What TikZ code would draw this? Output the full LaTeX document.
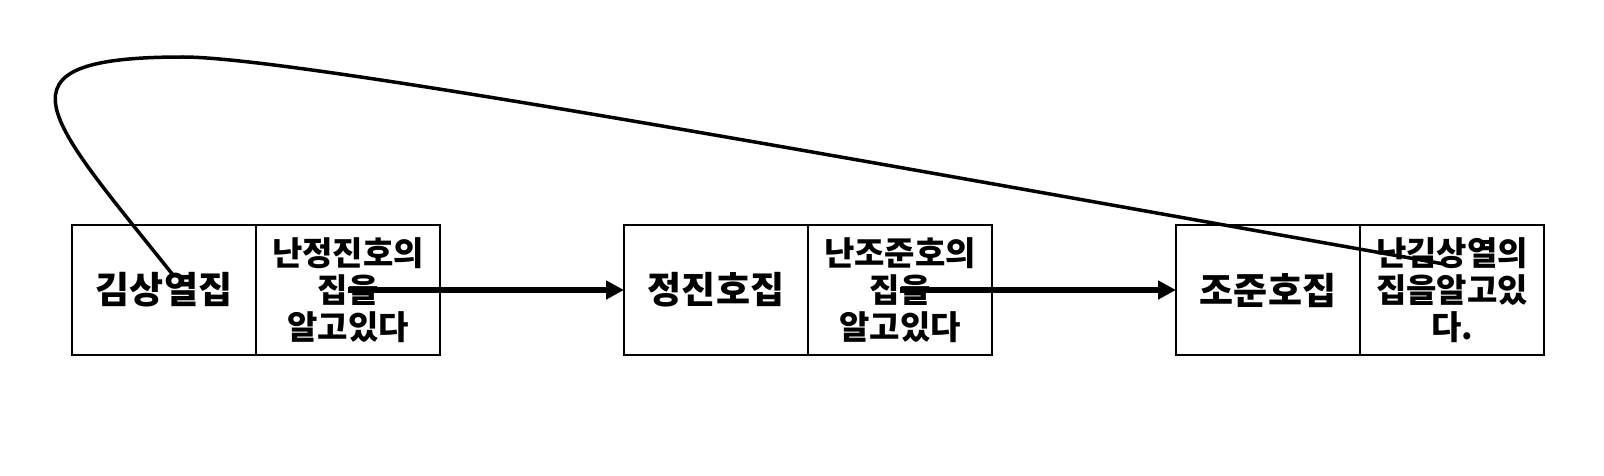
\documentclass[tikz,border=0pt]{standalone}
\usepackage{fontspec}
\newfontfamily\kofont{Noto Sans CJK KR}
\usepackage{tikz}
\usetikzlibrary{positioning}
\usetikzlibrary{arrows.meta}

\tikzset{
  datacell/.style={draw, line width=2.2pt, outer sep=0pt, inner sep=0pt,
    minimum width=184pt, minimum height=130pt,
    font=\kofont\bfseries\fontsize{37}{44}\selectfont},
  ptrcell/.style={datacell, align=center,
    font=\kofont\bfseries\fontsize{33}{37}\selectfont},
  nextlink/.style={line width=5.5pt, -{Triangle[length=18pt,width=18pt]}},
  backlink/.style={line width=3.5pt},
}

\begin{document}
\begin{tikzpicture}[x=1pt,y=-1pt]
        \useasboundingbox (0,0) rectangle (1604,476);%

        % Drawing node of the first house
        \node [datacell] (kimData) at (164,290) {김상열집};%
        \node [ptrcell, right=0pt of kimData] (kimPtr) {난정진호의\\집을\\알고있다};%

        % Drawing node of the second house
        \node [datacell, right=184pt of kimPtr] (jinData) {정진호집};%
        \node [ptrcell, right=0pt of jinData] (jinPtr) {난조준호의\\집을\\알고있다};%

        % Drawing node of the third house
        \node [datacell, right=184pt of jinPtr] (choData) {조준호집};%
        \node [ptrcell, right=0pt of choData] (choPtr) {난김상열의\\집을알고있\\다.};%

        % Drawing links to the next node
        \draw [nextlink] (kimPtr.center) -- (jinData.west);%
        \draw [nextlink] (jinPtr.center) -- (choData.west);%

        % Drawing link back to the first node
        \coordinate (loopStart) at (173,275);%
        \coordinate (loopEnd) at (1444,264);%
        \draw [backlink] (loopStart) .. controls (48,118) and (-17,57) .. (183,57)
              .. controls (300,57) and (900,168) .. (loopEnd);%
\end{tikzpicture}
\end{document}
